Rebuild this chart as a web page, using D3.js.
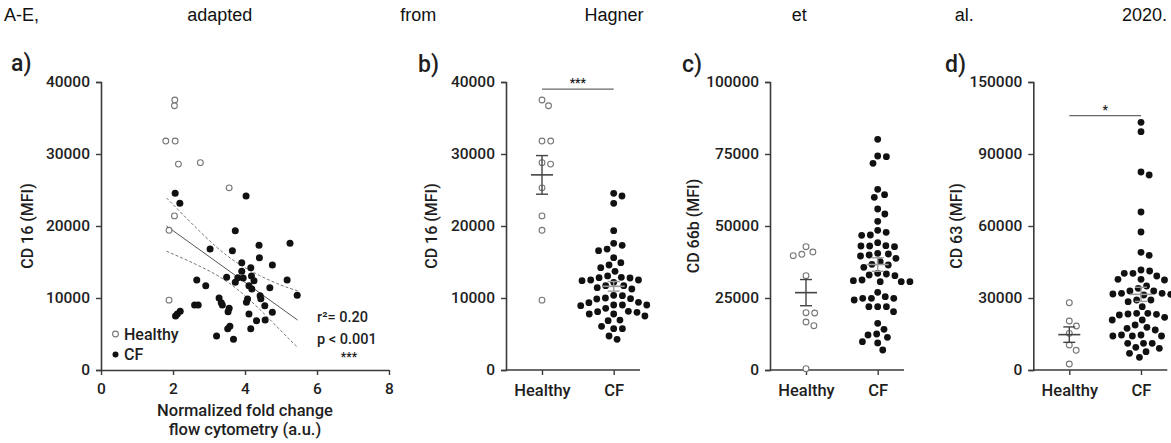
<!DOCTYPE html>
<html><head><meta charset="utf-8">
<script src="https://cdn.jsdelivr.net/npm/d3@7"></script>
<style>
body{margin:0;background:#fff}
svg{display:block}
text{font-family:Roboto,"DejaVu Sans Condensed",sans-serif;fill:#1e1e1e}
</style></head><body>
<svg id="chart" width="1171" height="443"></svg>
<script>
// ---------------- DATA ----------------
const titleWords = ["A-E,","adapted","from","Hagner","et","al.","2020."];
const panelLetters = ["a)","b)","c)","d)"];
const groups = ["Healthy","CF"];

// a) CD16 vs normalized fold change (Healthy open, CF filled)
const cd16HealthyX = [1.80,2.06,2.05,2.04,2.15,2.76,3.56,2.04,1.89,1.89];
const cd16HealthyY = [31800,31800,37500,36700,28600,28800,25300,21400,19400,9700];
const cd16CfX = [2.06,2.19,4.03,3.73,3.03,3.65,4.39,5.25,4.40,3.91,4.16,4.76,3.91,4.18,3.49,3.80,3.95,3.73,4.25,2.66,
                 2.91,4.11,4.19,4.69,5.17,5.45,4.42,4.44,4.07,4.04,4.55,3.28,3.34,3.37,2.60,2.70,3.56,3.53,4.76,4.11,
                 2.07,2.12,2.20,4.56,4.32,3.52,3.58,4.16,3.21,3.68];
const cd16CfY = [24540,23150,24170,19350,16800,16570,17310,17590,15600,14910,14210,14580,13700,13060,12870,12820,12780,12180,12400,12500,
                 11710,11710,11250,11430,12500,10370,10320,9900,9860,9400,8930,10000,9350,9030,9030,9030,8560,8100,8010,7780,
                 7500,7780,8150,6940,6850,5740,6060,5740,4720,4260];
// regression line and 95% band
const fitX = [1.82,5.46];
const fitY = [20000,6940];
const bandX = [1.82,2.5,3.2,3.8,4.4,5.0,5.46];
const bandUpper = [23900,20460,17120,14830,13140,11790,11000];
const bandLower = [16500,14990,13220,11150,8460,5440,3150];
const statsText = ["r\u00B2= 0.20","p < 0.001","***"];
const xTicksA = [0,2,4,6,8];
const yTicksA = [0,10000,20000,30000,40000];

// c) CD66b
const cd66bHealthy = [40970,39700,40170,42820,32750,19790,19900,16670,15390,460];
const cd66bCf = [80100,74070,74300,71760,62730,59950,60880,55900,54170,51620,48490,46870,46760,47800,44210,
                 43060,42820,43170,43060,40280,39580,40510,39930,38770,37620,36700,36460,35660,
                 32990,32750,33330,33560,31020,30670,30670,30670,31250,26970,25460,24880,24310,24880,24880,
                 21990,21990,20260,21990,16200,14120,12500,11340,9840,12150,9400,6940];
const yTicksC = [0,25000,50000,75000,100000];

// d) CD63
const cd63Healthy = [28040,20420,18330,15280,10420,8200,2500];
const cd63Cf = [103200,99300,81250,82500,65830,57500,49030,47780,41670,40280,39170,40280,41250,37780,37500,37780,
                34030,32920,35000,32920,31670,31940,31940,31530,31250,29170,28470,29170,26390,
                23610,23330,23610,23190,22920,20830,20830,21940,16670,17780,18750,17360,
                14580,14170,14170,14580,14170,11110,11110,11110,7640,9440,6940,9030,5280];
const yTicksD = [0,30000,60000,90000,120000];
const yTickLabelsD = ["0","30000","60000","90000","150000"];

const yLabels = ["CD 16 (MFI)","CD 16 (MFI)","CD 66b (MFI)","CD 63 (MFI)"];
const xLabelA = ["Normalized fold change","flow cytometry (a.u.)"];
const sigB = {text:"***", value:39000};
const sigD = {text:"*", value:106000};

// ---------------- DRAWING ----------------
const svg = d3.select("#chart");
const AX = "#3a3a3a";
const plotTop = 82, plotBottom = 370;
const tickFont = "15.5px";

// Title, justified
(function(){
  const g = svg.append("g");
  const ts = titleWords.map(w => g.append("text").text(w)
      .attr("y",21).style("font-family","'Liberation Sans',Arial,sans-serif")
      .style("font-size","18px").style("fill","#111"));
  const widths = ts.map(t => t.node().getComputedTextLength());
  const left = 4, right = 1167;
  const gap = (right-left-d3.sum(widths))/(titleWords.length-1);
  let x = left;
  ts.forEach((t,i)=>{ t.attr("x",x); x += widths[i]+gap; });
})();

function styleAxis(g){
  g.selectAll(".domain").attr("stroke",AX).attr("stroke-width",1.6);
  g.selectAll(".tick line").attr("stroke",AX).attr("stroke-width",1.4);
  g.selectAll(".tick text").style("font-size",tickFont).style("font-weight","500").attr("fill","#1e1e1e");
}

function yAxis(x0, y, ticks, labels){
  const ax = d3.axisLeft(y).tickValues(ticks).tickSize(5).tickPadding(6)
    .tickFormat((d,i)=> labels ? labels[i] : d3.format("d")(d));
  const g = svg.append("g").attr("transform",`translate(${x0},0)`).call(ax);
  styleAxis(g);
  return g;
}

function panelLetter(i, x, y){
  svg.append("text").attr("x",x).attr("y",y).text(panelLetters[i])
    .style("font-size","23px").style("font-weight","500");
}
function yLabel(i, x){
  svg.append("text").attr("transform",`translate(${x},${(plotTop+plotBottom)/2}) rotate(-90)`)
    .attr("text-anchor","middle").text(yLabels[i])
    .style("font-size","16px").style("font-weight","500");
}

// dodge / swarm layout
function swarm(values, y, cx, d){
  const pts = values.map(v=>({v, y:y(v), x:0}));
  const order = pts.slice().sort((a,b)=>a.y-b.y);
  const placed = [];
  for(const p of order){
    const cands=[0];
    for(const q of placed){
      const dy=Math.abs(q.y-p.y);
      if(dy<d){ const dx=Math.sqrt(d*d-dy*dy); cands.push(q.x+dx, q.x-dx); }
    }
    cands.sort((a,b)=>Math.abs(a)-Math.abs(b) || b-a);
    for(const c of cands){
      if(placed.every(q=>(q.x-c)**2+(q.y-p.y)**2 >= d*d-1e-6)){ p.x=c; break; }
    }
    placed.push(p);
  }
  return pts.map(p=>({x:cx+p.x, y:p.y}));
}

function meanSem(g, values, y, cx, color){
  const m = d3.mean(values), s = d3.deviation(values)/Math.sqrt(values.length);
  g.append("line").attr("x1",cx-11).attr("x2",cx+11).attr("y1",y(m)).attr("y2",y(m))
    .attr("stroke",color).attr("stroke-width",1.6);
  g.append("line").attr("x1",cx).attr("x2",cx).attr("y1",y(m+s)).attr("y2",y(m-s))
    .attr("stroke",color).attr("stroke-width",1.4);
  [m+s,m-s].forEach(v=> g.append("line").attr("x1",cx-6).attr("x2",cx+6).attr("y1",y(v)).attr("y2",y(v))
    .attr("stroke",color).attr("stroke-width",1.4));
}

function dotPanel(i, x0, yDomainMax, ticks, tickLabels, healthy, cf, sig){
  const y = d3.scaleLinear().domain([0,yDomainMax]).range([plotBottom,plotTop]);
  const x = d3.scalePoint().domain(groups).range([x0+36, x0+107.7]);
  const xg = svg.append("g").attr("transform",`translate(0,${plotBottom})`)
    .call(d3.axisBottom(x).tickSize(5).tickPadding(9).tickSizeOuter(0));
  xg.select(".domain").remove();
  xg.append("line").attr("x1",x0).attr("x2",x0+134).attr("stroke",AX).attr("stroke-width",1.6);
  styleAxis(xg);
  xg.selectAll(".tick text").style("font-size","16.5px");
  yAxis(x0, y, ticks, tickLabels);
  const g = svg.append("g");
  swarm(healthy, y, x("Healthy"), 8.7).forEach(p=>
    g.append("circle").attr("cx",p.x).attr("cy",p.y).attr("r",2.9)
     .attr("fill","#fff").attr("stroke","#777").attr("stroke-width",1.1));
  swarm(cf, y, x("CF"), 8.7).forEach(p=>
    g.append("circle").attr("cx",p.x).attr("cy",p.y).attr("r",3.4).attr("fill","#111"));
  meanSem(g, healthy, y, x("Healthy"), "#444");
  meanSem(g, cf, y, x("CF"), "#9a9a9a");
  if(sig){
    g.append("line").attr("x1",x("Healthy")).attr("x2",x("CF")).attr("y1",y(sig.value)).attr("y2",y(sig.value))
      .attr("stroke","#666").attr("stroke-width",1.2);
    g.append("text").attr("x",(x("Healthy")+x("CF"))/2).attr("y",y(sig.value)-2).attr("text-anchor","middle")
      .text(sig.text).style("font-size","12px").style("font-weight","700");
  }
}

// ---- panel a ----
(function(){
  const x = d3.scaleLinear().domain([0,8]).range([101,389]);
  const y = d3.scaleLinear().domain([0,40000]).range([plotBottom,plotTop]);
  const xg = svg.append("g").attr("transform",`translate(0,${plotBottom})`)
    .call(d3.axisBottom(x).tickValues(xTicksA).tickSize(5).tickPadding(8).tickSizeOuter(0));
  styleAxis(xg);
  yAxis(101, y, yTicksA, null);
  const g = svg.append("g");
  const band = d3.line().x((d,i)=>x(bandX[i])).y(d=>y(d)).curve(d3.curveNatural);
  g.append("path").attr("d",band(bandUpper)).attr("fill","none").attr("stroke","#777")
    .attr("stroke-width",1).attr("stroke-dasharray","3,2");
  g.append("path").attr("d",band(bandLower)).attr("fill","none").attr("stroke","#777")
    .attr("stroke-width",1).attr("stroke-dasharray","3,2");
  g.append("path").attr("d",d3.line().x((d,i)=>x(fitX[i])).y(d=>y(d))(fitY))
    .attr("fill","none").attr("stroke","#555").attr("stroke-width",1);
  cd16HealthyY.forEach((v,i)=> g.append("circle").attr("cx",x(cd16HealthyX[i])).attr("cy",y(v)).attr("r",2.9)
    .attr("fill","#fff").attr("stroke","#777").attr("stroke-width",1.1));
  cd16CfY.forEach((v,i)=> g.append("circle").attr("cx",x(cd16CfX[i])).attr("cy",y(v)).attr("r",3.5).attr("fill","#111"));
  g.append("circle").attr("cx",115.5).attr("cy",334).attr("r",2.9).attr("fill","#fff").attr("stroke","#777").attr("stroke-width",1.1);
  g.append("circle").attr("cx",115.5).attr("cy",354.5).attr("r",3).attr("fill","#111");
  g.append("text").attr("x",124).attr("y",339.5).text(groups[0]).style("font-size","16px").style("font-weight","500");
  g.append("text").attr("x",124).attr("y",359.5).text(groups[1]).style("font-size","16px").style("font-weight","500");
  g.append("text").attr("x",317).attr("y",322).text(statsText[0]).style("font-size","14.5px").style("font-weight","500");
  g.append("text").attr("x",317).attr("y",344).text(statsText[1]).style("font-size","14.5px").style("font-weight","500");
  g.append("text").attr("x",349).attr("y",361).attr("text-anchor","middle").text(statsText[2]).style("font-size","12px").style("font-weight","700");
  xLabelA.forEach((t,i)=> svg.append("text").attr("x",245).attr("y",416+i*19).attr("text-anchor","middle")
    .text(t).style("font-size","16.5px").style("font-weight","500"));
  panelLetter(0, 11, 71);
  yLabel(0, 33);
})();

// ---- panels b, c, d ----
dotPanel(1, 506, 40000, yTicksA, null, cd16HealthyY, cd16CfY, sigB);
panelLetter(1, 418, 72); yLabel(1, 437);
dotPanel(2, 770, 100000, yTicksC, null, cd66bHealthy, cd66bCf, null);
panelLetter(2, 682, 72); yLabel(2, 699);
dotPanel(3, 1033.3, 120000, yTicksD, yTickLabelsD, cd63Healthy, cd63Cf, sigD);
panelLetter(3, 945, 72); yLabel(3, 962);
</script>
</body></html>
